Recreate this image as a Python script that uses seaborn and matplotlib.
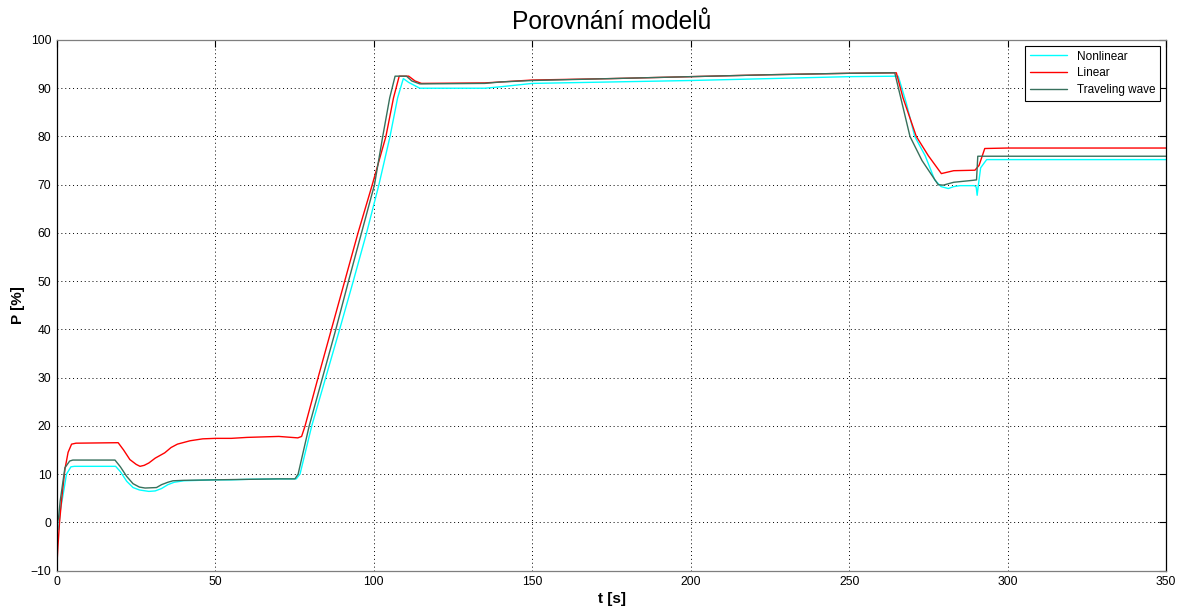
import numpy as np
import pandas as pd
import matplotlib
matplotlib.use("Agg")
import matplotlib.pyplot as plt
import seaborn as sns

# ---- data ----
series_names = ["Nonlinear", "Linear", "Traveling wave"]

t_nonlinear = [0, 0.5, 1, 2, 3, 4.4, 5.5, 18.5, 20, 22, 24, 26, 28, 29, 31, 33, 35, 37, 40, 45,
               50, 55, 60, 70, 75.5, 76.7, 80.4, 84.8, 89.2, 93.5, 97.7, 101.6, 105.1, 107.5, 109.3,
               111, 114.5, 135, 140, 150, 175, 200, 225, 250, 265.5, 268, 270.7, 274, 277, 279,
               281.3, 283, 285, 289.5, 290.1, 290.4, 290.8, 291.5, 293.4, 300, 350]
p_nonlinear = [-0.5, -1.5, 2.3, 6, 10, 11.5, 11.6, 11.6, 10.5, 8.5, 7.2, 6.7, 6.5, 6.4, 6.5, 7.0,
               7.8, 8.3, 8.6, 8.7, 8.8, 8.8, 8.9, 9.0, 9.0, 10, 20, 30, 40, 50, 60, 70, 80, 88, 92.0,
               91.2, 90.0, 90.0, 90.3, 91.0, 91.3, 91.6, 92.0, 92.4, 92.5, 87, 80, 76, 71, 69.6,
               69.2, 69.6, 69.8, 69.8, 69.5, 67.8, 70, 73.5, 75.2, 75.2, 75.2]

t_linear = [0, 0.3, 0.8, 1.5, 2.5, 3.5, 4.6, 6, 19.3, 21, 23, 25, 26.2, 27.5, 29, 31, 34, 36, 38,
            42, 46, 50, 55, 60, 65, 70, 76, 77.2, 78.3, 82.4, 86.6, 90.8, 95.0, 99.5, 103.8, 106.2,
            108, 111, 113, 115, 135, 140, 150, 175, 200, 225, 250, 264.9, 267, 271.2, 275, 279.1,
            283, 289.7, 291, 292.8, 300, 350]
p_linear = [-8.5, -5, 0, 5, 11, 14.5, 16.2, 16.4, 16.5, 15, 13, 12, 11.6, 11.8, 12.3, 13.3, 14.4,
            15.5, 16.2, 16.9, 17.3, 17.4, 17.4, 17.6, 17.7, 17.8, 17.5, 17.8, 20, 30, 40, 50, 60,
            70, 80, 88, 92.5, 92.5, 91.5, 91.0, 91.1, 91.3, 91.7, 92.0, 92.4, 92.8, 93.1, 93.2, 88,
            80, 76, 72.3, 72.9, 73.0, 74, 77.5, 77.6, 77.6]

t_wave = [0, 0.5, 1, 2.5, 4, 5, 18.3, 20, 22, 24, 26, 27.8, 31.4, 33, 35, 36.6, 40, 50, 60, 70,
          75.1, 76.1, 79.6, 83.8, 88.0, 92.0, 96.1, 100.2, 102.8, 105.0, 106.7, 110.3, 112, 114.5,
          135, 140, 150, 175, 200, 225, 250, 264.4, 269.2, 273, 278.1, 279.7, 283, 289, 290.2,
          290.6, 300, 350]
p_wave = [-0.5, 1, 4.4, 11.3, 12.7, 12.9, 12.9, 11.5, 9.5, 8, 7.3, 7.1, 7.2, 7.8, 8.3, 8.6, 8.7,
          8.8, 8.9, 9.0, 9.0, 10, 20, 30, 40, 50, 60, 70, 80, 88, 92.5, 92.5, 91.5, 90.9, 91.0,
          91.3, 91.6, 92.0, 92.4, 92.8, 93.1, 93.2, 80, 75, 70, 69.9, 70.5, 70.9, 71, 75.9, 75.9,
          75.9]

x_ticks = [0, 50, 100, 150, 200, 250, 300, 350]
y_ticks = [-10, 0, 10, 20, 30, 40, 50, 60, 70, 80, 90, 100]

colors = {"Nonlinear": "#00FFFF", "Linear": "#FF0000", "Traveling wave": "#37705C"}

# ---- build long table ----
frames = []
for name, tt, pp in zip(series_names,
                        [t_nonlinear, t_linear, t_wave],
                        [p_nonlinear, p_linear, p_wave]):
    frames.append(pd.DataFrame({"t": tt, "P": pp, "model": name}))
df = pd.concat(frames, ignore_index=True)

sns.set_style("white")
plt.rcParams["font.family"] = ["Liberation Sans", "DejaVu Sans"]
plt.rcParams["text.color"] = "black"
plt.rcParams["axes.labelcolor"] = "black"

fig = plt.figure(figsize=(11.83, 6.10), dpi=100)
ax = fig.add_axes([57 / 1183, 1 - 570.5 / 610, (1166 - 57) / 1183, (570.5 - 40) / 610])

sns.lineplot(data=df, x="t", y="P", hue="model", hue_order=series_names,
             palette=colors, estimator=None, sort=False, linewidth=1.0, ax=ax)

ax.set_xlim(0, 350)
ax.set_ylim(-10, 100)
ax.set_xticks(x_ticks)
ax.set_yticks(y_ticks)
ax.tick_params(direction="in", top=True, right=True, length=5, width=0.8,
               labelsize=8.7, colors="black", pad=4)
ax.grid(True, color="black", linestyle=(0, (1, 3)), linewidth=0.7)
for s in ["left", "right"]:
    ax.spines[s].set_color("black")
for s in ["top", "bottom"]:
    ax.spines[s].set_color("#7f7f7f")
for s in ax.spines.values():
    s.set_linewidth(0.9)

ax.set_title("Porovnání modelů", fontsize=17.7, pad=8, color="black")
ax.set_xlabel("t [s]", fontsize=11, fontweight="bold", labelpad=3)
ax.set_ylabel("P [%]", fontsize=11, fontweight="bold", labelpad=4)

leg = ax.legend(loc="upper right", fontsize=8.5, frameon=True, fancybox=False,
                edgecolor="black", framealpha=1, borderaxespad=0.5,
                handlelength=3.2, labelspacing=0.4, borderpad=0.4)
leg.get_frame().set_linewidth(0.8)
for txt in leg.get_texts():
    txt.set_color("black")

fig.savefig("out.png", dpi=100)
